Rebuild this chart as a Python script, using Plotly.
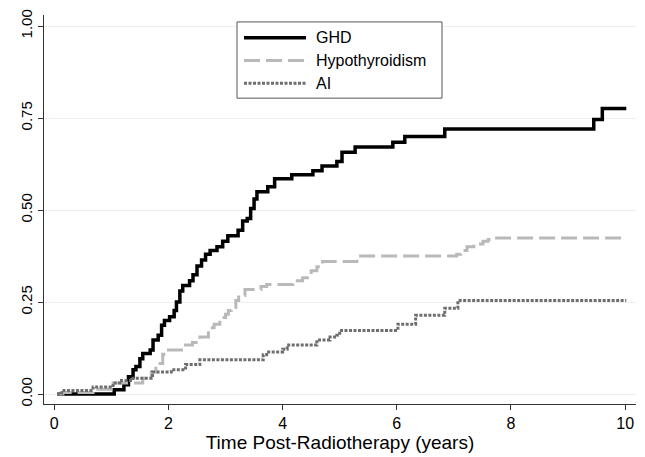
import plotly.graph_objects as go

# Step times (years) and cumulative incidence values
ghd_t = [0.05, 1.05, 1.22, 1.30, 1.38, 1.43, 1.50, 1.55, 1.68, 1.73, 1.82, 1.88, 1.93, 2.02,
         2.10, 2.14, 2.20, 2.25, 2.37, 2.43, 2.50, 2.58, 2.65, 2.73, 2.85, 2.95, 3.04, 3.22,
         3.30, 3.38, 3.44, 3.50, 3.55, 3.74, 3.86, 4.16, 4.53, 4.69, 4.95, 5.04, 5.27, 5.93,
         6.14, 6.84, 9.45, 9.60, 10.02]
ghd_v = [0.0, 0.012, 0.025, 0.047, 0.066, 0.075, 0.096, 0.11, 0.12, 0.147, 0.16, 0.187, 0.20, 0.21,
         0.227, 0.25, 0.28, 0.295, 0.308, 0.324, 0.348, 0.364, 0.38, 0.39, 0.40, 0.415, 0.43, 0.445,
         0.47, 0.477, 0.504, 0.53, 0.55, 0.563, 0.585, 0.596, 0.607, 0.62, 0.632, 0.657, 0.671, 0.684,
         0.70, 0.72, 0.746, 0.776, 0.776]

hypo_t = [0.05, 0.15, 0.68, 1.03, 1.55, 1.70, 1.78, 1.90, 1.97, 2.30, 2.42, 2.55, 2.70, 2.80,
          2.90, 3.00, 3.05, 3.10, 3.18, 3.23, 3.34, 3.62, 3.72, 4.18, 4.35, 4.50, 4.60, 4.70,
          5.30, 7.05, 7.12, 7.23, 7.35, 7.51, 7.60, 7.68, 10.02]
hypo_v = [0.0, 0.004, 0.013, 0.03, 0.043, 0.06, 0.083, 0.108, 0.12, 0.133, 0.14, 0.155, 0.18, 0.19,
          0.208, 0.217, 0.227, 0.235, 0.254, 0.268, 0.284, 0.292, 0.298, 0.308, 0.316, 0.335, 0.346, 0.36,
          0.375, 0.38, 0.39, 0.40, 0.408, 0.415, 0.42, 0.424, 0.424]

ai_t = [0.05, 0.13, 0.68, 1.03, 1.15, 1.38, 1.72, 2.05, 2.30, 2.55, 3.66, 3.72, 4.00, 4.08,
        4.60, 4.83, 4.95, 5.00, 6.02, 6.33, 6.84, 7.07, 10.02]
ai_v = [0.0, 0.01, 0.019, 0.03, 0.037, 0.043, 0.06, 0.066, 0.08, 0.093, 0.107, 0.114, 0.122, 0.133,
        0.147, 0.155, 0.16, 0.173, 0.19, 0.214, 0.233, 0.254, 0.254]

series_names = ["GHD", "Hypothyroidism", "AI"]
x_ticks = [0, 2, 4, 6, 8, 10]
y_ticks = [0.0, 0.25, 0.5, 0.75, 1.0]
y_tick_labels = ["0.00", "0.25", "0.50", "0.75", "1.00"]

FONT = "Liberation Sans, Arial, Helvetica, sans-serif"
styles = [dict(color="#000000", width=3.5),
          dict(color="#b9b9b9", width=3, dash="16px,6px"),
          dict(color="#6e6e6e", width=3, dash="3px,1.5px")]

fig = go.Figure()
for t, v, name, st in zip([ghd_t, hypo_t, ai_t], [ghd_v, hypo_v, ai_v], series_names, styles):
    fig.add_trace(go.Scatter(x=t, y=v, mode="lines", name=name, line_shape="hv",
                             line=st, showlegend=False))

# Legend drawn as a boxed key (paper coordinates)
L, W, T, H = 44, 592, 15, 393
def px(xp):
    return (xp - L) / W
def py(yp):
    return (T + H - yp) / H

fig.add_shape(type="rect", xref="paper", yref="paper", x0=px(237), x1=px(442), y0=py(99), y1=py(22),
              line=dict(color="#555555", width=1), fillcolor="white", layer="above")
for i, (name, st) in enumerate(zip(series_names, styles)):
    yrow = 38 + i * 23
    fig.add_shape(type="line", xref="paper", yref="paper", x0=px(244), x1=px(306),
                  y0=py(yrow), y1=py(yrow), line=st, layer="above")
    fig.add_annotation(xref="paper", yref="paper", x=px(314), y=py(yrow), text=name,
                       showarrow=False, xanchor="left", yanchor="middle",
                       font=dict(size=16, family=FONT, color="#000000"))

fig.update_layout(
    width=645, height=457,
    margin=dict(l=L, r=645 - L - W, t=T, b=457 - T - H),
    paper_bgcolor="white", plot_bgcolor="white",
    font=dict(family=FONT, size=15, color="#000000"),
    showlegend=False,
    xaxis=dict(range=[-0.18, 10.19], tickvals=x_ticks, ticks="outside", ticklen=5,
               tickcolor="#333333", showline=True, linecolor="#333333", linewidth=1,
               showgrid=False, zeroline=False, tickfont=dict(size=16),
               title=dict(text="Time Post-Radiotherapy (years)", font=dict(size=19), standoff=2)),
    yaxis=dict(range=[-0.027, 1.03], tickvals=y_ticks, ticktext=y_tick_labels, tickangle=-90,
               ticks="outside", ticklen=5, tickcolor="#333333", showline=True,
               linecolor="#333333", linewidth=1, showgrid=True, gridcolor="#efefef",
               gridwidth=1, zeroline=False, tickfont=dict(size=15)),
)

fig.write_html("out.html", config={"displayModeBar": False},
               post_script="document.body.style.margin='0';document.body.style.overflow='hidden';")
